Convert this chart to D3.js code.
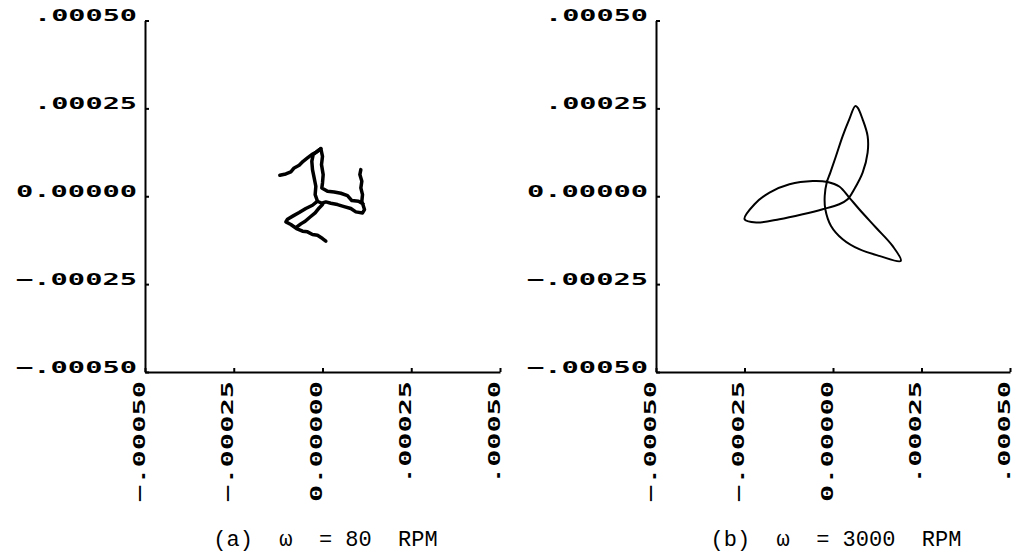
<!DOCTYPE html>
<html><head><meta charset="utf-8">
<script src="https://cdn.jsdelivr.net/npm/d3@7"></script>
<style>body{margin:0;background:#fff}svg{display:block}</style>
</head><body>
<svg id="c" width="1018" height="559"></svg>
<script>
// ---- data ----
const tickValues = [-0.0005, -0.00025, 0, 0.00025, 0.0005];
const xTickLabels = ["\u2212.00050", "\u2212.00025", "0.00000", ".00025", ".00050"];
const yTickLabels = ["\u2212.00050", "\u2212.00025", "0.00000", ".00025", ".00050"];
const captions = ["(a)  \u03c9  = 80  RPM", "(b)  \u03c9  = 3000  RPM"];

// (a) 80 RPM: jagged orbit pieces [x, y]
const orbitA_arm = [[-12.02e-5,5.97e-5],[-10.33e-5,6.34e-5],[-8.92e-5,6.91e-5],[-7.98e-5,8.05e-5],[-6.57e-5,8.81e-5],[-5.45e-5,9.94e-5],[-4.23e-5,10.89e-5],[-3.01e-5,11.84e-5],[-1.69e-5,12.59e-5],[-0.47e-5,13.54e-5]];
const orbitA_main = [[10.80e-5,7.58e-5],[10.52e-5,6.16e-5],[11.08e-5,4.26e-5],[10.80e-5,2.37e-5],[11.27e-5,0.47e-5],[11.08e-5,-1.42e-5],[11.83e-5,-3.79e-5],[11.27e-5,-4.74e-5],[9.39e-5,-4.45e-5],[7.98e-5,-3.50e-5],[6.10e-5,-2.94e-5],[4.23e-5,-2.37e-5],[2.35e-5,-1.99e-5],[0.94e-5,-1.61e-5],[-0.19e-5,-1.99e-5],[-1.41e-5,-1.42e-5],[-2.07e-5,0.47e-5],[-1.88e-5,2.84e-5],[-2.35e-5,5.21e-5],[-2.82e-5,7.58e-5],[-3.01e-5,9.94e-5],[-2.63e-5,11.84e-5],[-1.69e-5,12.59e-5],[-0.47e-5,13.54e-5],[0,11.36e-5],[-0.28e-5,9.00e-5],[0.19e-5,6.16e-5],[0,3.79e-5],[-0.19e-5,2.37e-5],[1.41e-5,1.42e-5],[3.29e-5,1.23e-5],[5.16e-5,0.85e-5],[7.04e-5,0.19e-5],[8.26e-5,-1.23e-5],[10.14e-5,-1.42e-5],[11.46e-5,-2.18e-5]];
const orbitA_low1 = [[-1.41e-5,-1.42e-5],[-2.82e-5,-2.56e-5],[-4.70e-5,-3.50e-5],[-6.57e-5,-4.64e-5],[-8.26e-5,-5.59e-5],[-9.86e-5,-6.53e-5],[-10.33e-5,-7.29e-5],[-8.92e-5,-8.05e-5],[-7.32e-5,-9.19e-5],[-5.63e-5,-9.94e-5],[-4.23e-5,-10.13e-5],[-2.82e-5,-10.89e-5],[-1.41e-5,-11.08e-5],[0,-12.03e-5],[0.94e-5,-12.78e-5]];
const orbitA_low2 = [[0,-2.37e-5],[-0.94e-5,-3.31e-5],[-2.07e-5,-4.74e-5],[-3.57e-5,-5.97e-5],[-4.88e-5,-7.10e-5],[-6.10e-5,-7.86e-5],[-7.32e-5,-8.81e-5]];

// (b) 3000 RPM: closed three-lobed orbit [x, y]
const orbitB = [[6.28e-5,25.65e-5],[4.59e-5,21.88e-5],[2.73e-5,17.13e-5],[0.85e-5,11.45e-5],[-0.76e-5,6.73e-5],[-1.77e-5,3.89e-5],[-2.34e-5,0.09e-5],[-2.17e-5,-3.69e-5],[-0.56e-5,-8.44e-5],[2.73e-5,-12.22e-5],[7.41e-5,-15.06e-5],[13.04e-5,-16.96e-5],[19.15e-5,-18.38e-5],[16.82e-5,-14.12e-5],[12.11e-5,-8.89e-5],[7.41e-5,-3.69e-5],[4.59e-5,-0.37e-5],[1.77e-5,2.76e-5],[-1.49e-5,4.06e-5],[-5.72e-5,4.35e-5],[-12.31e-5,3.41e-5],[-17.94e-5,1.05e-5],[-22.17e-5,-2.27e-5],[-24.99e-5,-6.53e-5],[-21.69e-5,-7.47e-5],[-15.13e-5,-6.53e-5],[-8.54e-5,-5.11e-5],[-2.90e-5,-3.69e-5],[1.77e-5,-2.27e-5],[4.14e-5,-0.85e-5],[6.00e-5,1.99e-5],[8.37e-5,6.73e-5],[9.78e-5,12.41e-5],[9.78e-5,17.13e-5],[8.37e-5,21.88e-5],[6.96e-5,25.20e-5]];

// ---- drawing ----
const svg = d3.select('#c');
const panels = [
  {x0:145, x1:500, caption:captions[0], series:[orbitA_arm, orbitA_main, orbitA_low1, orbitA_low2], closed:false, sw:3.5},
  {x0:656, x1:1010, caption:captions[1], series:[orbitB], closed:true, sw:2}
];
const labelFont = "'DejaVu Sans Mono', monospace";

panels.forEach(p => {
  const x = d3.scaleLinear().domain([-0.0005, 0.0005]).range([p.x0, p.x1]);
  const y = d3.scaleLinear().domain([-0.0005, 0.0005]).range([372, 20.5]);
  const g = svg.append('g');

  const yAxis = d3.axisLeft(y).tickValues(tickValues)
    .tickFormat((d,i) => yTickLabels[i]).tickSizeInner(-4).tickSizeOuter(0).tickPadding(8);
  const ya = g.append('g').attr('transform', `translate(${p.x0},0)`).call(yAxis);
  ya.selectAll('text')
    .attr('dy', 0)
    .attr('font-family', labelFont).attr('font-weight', 'bold').attr('font-size', 16)
    .attr('fill', '#000')
    .attr('textLength', d => 18 * yTickLabels[tickValues.indexOf(d)].length - 5)
    .attr('lengthAdjust', 'spacingAndGlyphs');

  const xAxis = d3.axisBottom(x).tickValues(tickValues)
    .tickFormat((d,i) => xTickLabels[i]).tickSizeInner(-4).tickSizeOuter(0);
  const xa = g.append('g').attr('transform', 'translate(0,372)').call(xAxis);
  xa.selectAll('text')
    .attr('x', 0).attr('y', 0).attr('dy', 0)
    .attr('transform', 'translate(-1,9) rotate(-90)')
    .attr('text-anchor', 'end')
    .attr('font-family', labelFont).attr('font-weight', 'bold').attr('font-size', 16)
    .attr('fill', '#000')
    .attr('textLength', d => 18 * xTickLabels[tickValues.indexOf(d)].length - 5)
    .attr('lengthAdjust', 'spacingAndGlyphs');

  [ya, xa].forEach(a => {
    a.select('.domain').attr('stroke', '#000').attr('stroke-width', 2);
    a.selectAll('.tick line').attr('stroke', '#000').attr('stroke-width', 2);
  });

  const line = d3.line().x(d => x(d[0])).y(d => y(d[1]));
  if (p.closed) line.curve(d3.curveCatmullRomClosed.alpha(0.5));
  g.selectAll('path.orbit').data(p.series).join('path')
    .attr('class', 'orbit')
    .attr('d', line)
    .attr('fill', 'none').attr('stroke', '#000')
    .attr('stroke-width', p.sw)
    .attr('stroke-linejoin', 'round').attr('stroke-linecap', 'round');

  g.append('text')
    .attr('x', x(0) + 3).attr('y', 546)
    .attr('text-anchor', 'middle')
    .attr('font-family', "'Liberation Mono', 'Courier New', monospace")
    .attr('font-size', 22)
    .style('white-space', 'pre')
    .attr('fill', '#000')
    .text(p.caption);
});
</script>
</body></html>
